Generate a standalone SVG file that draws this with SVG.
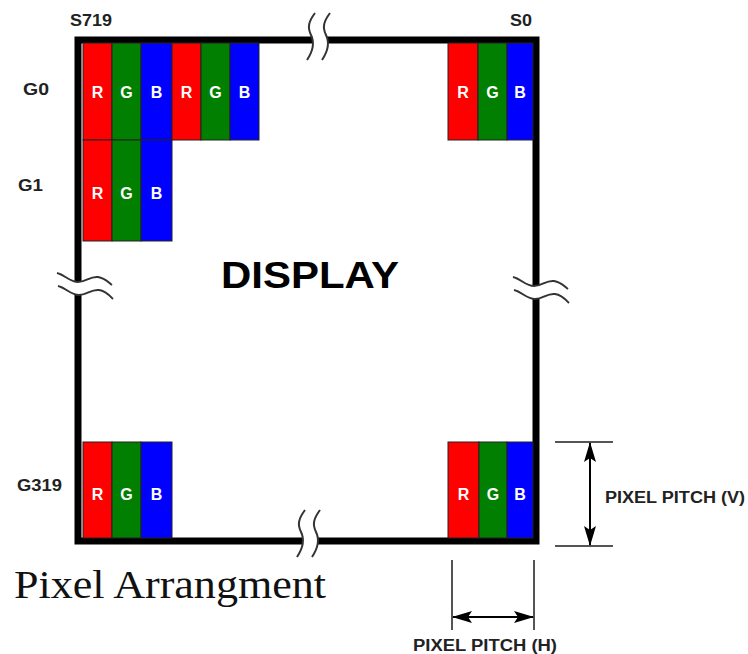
<svg xmlns="http://www.w3.org/2000/svg" width="748" height="654" viewBox="0 0 748 654">
<style>
.lbl{font-family:"Liberation Sans",Arial,sans-serif;font-weight:bold;fill:#222;}
.cell{stroke:#222;stroke-width:1;}
.r{fill:#FF0000;}
.g{fill:#007F00;}
.b{fill:#0000FF;}
.ltr{font-family:"Liberation Sans",Arial,sans-serif;font-weight:bold;font-size:16px;fill:#fff;text-anchor:middle;}
.brk{fill:none;stroke:#333;stroke-width:2;}
.gap{fill:#fff;stroke:none;}
.ext{stroke:#555;stroke-width:2;fill:none;}
.dim{stroke:#000;stroke-width:2;fill:none;marker-start:url(#ah);marker-end:url(#ah);}
</style>
<defs>
<marker id="ah" viewBox="0 0 20 12" refX="19" refY="6" markerWidth="20" markerHeight="12" markerUnits="userSpaceOnUse" orient="auto-start-reverse">
<path d="M0,0 L20,6 L0,12 L4,6 Z" fill="#000"/>
</marker>
<g id="vbrk">
<path class="gap" d="M8,0 C2,8 0,14 4,22 C8,30 6,38 0,47 L15,47 C21,38 23,30 19,22 C15,14 17,8 23,0 Z"/>
<path class="brk" d="M8,0 C2,8 0,14 4,22 C8,30 6,38 0,47"/>
<path class="brk" d="M23,0 C17,8 15,14 19,22 C23,30 21,38 15,47"/>
</g>
<g id="hbrk">
<path class="gap" d="M0,0 C8,2 13,9 21,9 C29,9 33,3 41,4 C48,5 52,10 55,12 L56,26 C53,23 49,18 42,17 C34,16 30,22 22,22 C14,22 9,15 1,13 Z"/>
<path class="brk" d="M0,0 C8,2 13,9 21,9 C29,9 33,3 41,4 C48,5 52,10 55,12"/>
<path class="brk" d="M1,13 C9,15 14,22 22,22 C30,22 34,16 42,17 C49,18 53,23 56,26"/>
</g>
</defs>
<rect width="748" height="654" fill="#fff"/>

<g id="frame">
<rect x="78" y="40" width="458" height="501" fill="none" stroke="#000" stroke-width="7"/>
</g>

<g id="breaks">
<use href="#vbrk" x="307" y="13"/>
<use href="#vbrk" x="297" y="510"/>
<use href="#hbrk" x="57" y="273"/>
<use href="#hbrk" x="513" y="277"/>
</g>

<g id="pixels-g0-s719">
<rect class="cell r" x="83" y="43" width="29" height="97"/>
<rect class="cell g" x="112" y="43" width="29" height="97"/>
<rect class="cell b" x="141" y="43" width="31" height="97"/>
<rect class="cell r" x="172" y="43" width="29" height="97"/>
<rect class="cell g" x="201" y="43" width="29" height="97"/>
<rect class="cell b" x="230" y="43" width="29" height="97"/>
<text class="ltr" x="97.5" y="98">R</text>
<text class="ltr" x="126.5" y="98">G</text>
<text class="ltr" x="156.5" y="98">B</text>
<text class="ltr" x="186.5" y="98">R</text>
<text class="ltr" x="215.5" y="98">G</text>
<text class="ltr" x="244.5" y="98">B</text>
</g>

<g id="pixels-g1">
<rect class="cell r" x="83" y="140" width="29" height="101"/>
<rect class="cell g" x="112" y="140" width="29" height="101"/>
<rect class="cell b" x="141" y="140" width="31" height="101"/>
<text class="ltr" x="97.5" y="199">R</text>
<text class="ltr" x="126.5" y="199">G</text>
<text class="ltr" x="156.5" y="199">B</text>
</g>

<g id="pixels-g0-s0">
<rect class="cell r" x="448" y="43" width="30" height="97"/>
<rect class="cell g" x="478" y="43" width="29" height="97"/>
<rect class="cell b" x="507" y="43" width="26" height="97"/>
<text class="ltr" x="463" y="98">R</text>
<text class="ltr" x="492.5" y="98">G</text>
<text class="ltr" x="520" y="98">B</text>
</g>

<g id="pixels-g319-s719">
<rect class="cell r" x="83" y="442" width="29" height="96"/>
<rect class="cell g" x="112" y="442" width="29" height="96"/>
<rect class="cell b" x="141" y="442" width="31" height="96"/>
<text class="ltr" x="97.5" y="500">R</text>
<text class="ltr" x="126.5" y="500">G</text>
<text class="ltr" x="156.5" y="500">B</text>
</g>

<g id="pixels-g319-s0">
<rect class="cell r" x="448" y="442" width="31" height="96"/>
<rect class="cell g" x="479" y="442" width="28" height="96"/>
<rect class="cell b" x="507" y="442" width="26" height="96"/>
<text class="ltr" x="463.5" y="500">R</text>
<text class="ltr" x="493" y="500">G</text>
<text class="ltr" x="520" y="500">B</text>
</g>

<g id="labels">
<text class="lbl" x="70" y="26" font-size="17" textLength="42" lengthAdjust="spacingAndGlyphs">S719</text>
<text class="lbl" x="510" y="26" font-size="17" textLength="22" lengthAdjust="spacingAndGlyphs">S0</text>
<text class="lbl" x="23" y="95" font-size="17" textLength="26" lengthAdjust="spacingAndGlyphs">G0</text>
<text class="lbl" x="18" y="191" font-size="17" textLength="25" lengthAdjust="spacingAndGlyphs">G1</text>
<text class="lbl" x="17" y="491" font-size="17" textLength="45" lengthAdjust="spacingAndGlyphs">G319</text>
<text class="lbl" x="221" y="288" font-size="37" style="fill:#000" textLength="178" lengthAdjust="spacingAndGlyphs">DISPLAY</text>
<text class="lbl" x="605" y="503" font-size="16" textLength="140" lengthAdjust="spacingAndGlyphs">PIXEL PITCH (V)</text>
<text class="lbl" x="413" y="651" font-size="16" textLength="144" lengthAdjust="spacingAndGlyphs">PIXEL PITCH (H)</text>
<text x="14" y="598" font-family="'Liberation Serif','Times New Roman',serif" font-size="40" fill="#111" textLength="312" lengthAdjust="spacingAndGlyphs">Pixel Arrangment</text>
</g>

<g id="connectors">
<line class="ext" x1="555" y1="442" x2="613" y2="442"/>
<line class="ext" x1="555" y1="546" x2="613" y2="546"/>
<line class="dim" x1="590" y1="443" x2="590" y2="545"/>
<line class="ext" x1="452" y1="560" x2="452" y2="630"/>
<line class="ext" x1="534" y1="560" x2="534" y2="630"/>
<line class="dim" x1="453" y1="617" x2="533" y2="617"/>
</g>
</svg>
